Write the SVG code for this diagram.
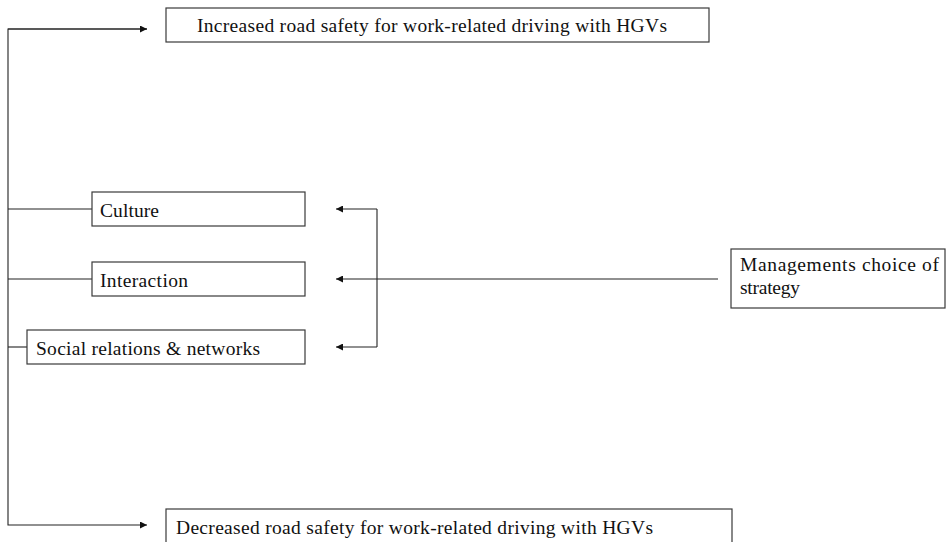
<svg xmlns="http://www.w3.org/2000/svg" width="948" height="542" viewBox="0 0 948 542">
  <style>
    .box { fill: #ffffff; stroke: #3a3a3a; stroke-width: 1.2; }
    .lbl { font-family: "Liberation Serif", "Times New Roman", serif; font-size: 19.5px; fill: #111111; }
    .wire { fill: none; stroke: #222222; stroke-width: 1.1; }
  </style>
  <defs>
    <marker id="tip" viewBox="0 0 10 10" refX="10" refY="5" markerWidth="9" markerHeight="7" markerUnits="userSpaceOnUse" orient="auto">
      <path d="M0,0 L10,5 L0,10 z" fill="#111111"/>
    </marker>
  </defs>

  <g id="connectors">
    <!-- left spine with outcome arrows -->
    <polyline class="wire" points="147,29 8,29 8,525 147,525" marker-end="url(#tip)"/>
    <path class="wire" d="M8,29 L147,29" marker-end="url(#tip)"/>
    <!-- spine to mechanism boxes -->
    <line class="wire" x1="8" y1="209" x2="92" y2="209"/>
    <line class="wire" x1="8" y1="279" x2="92" y2="279"/>
    <line class="wire" x1="8" y1="347" x2="27" y2="347"/>
    <!-- strategy fan-out -->
    <line class="wire" x1="718" y1="279" x2="336" y2="279" marker-end="url(#tip)"/>
    <path class="wire" d="M377,209 L377,347"/>
    <line class="wire" x1="377" y1="209" x2="336" y2="209" marker-end="url(#tip)"/>
    <line class="wire" x1="377" y1="347" x2="336" y2="347" marker-end="url(#tip)"/>
  </g>

  <g id="increased">
    <rect class="box" x="166" y="8" width="543" height="34"/>
    <text class="lbl" x="197" y="32" textLength="470" lengthAdjust="spacing">Increased road safety for work-related driving with HGVs</text>
  </g>

  <g id="culture">
    <rect class="box" x="92" y="192" width="213" height="34"/>
    <text class="lbl" x="100" y="217" textLength="59" lengthAdjust="spacing">Culture</text>
  </g>

  <g id="interaction">
    <rect class="box" x="92" y="262" width="213" height="34"/>
    <text class="lbl" x="100" y="287" textLength="88" lengthAdjust="spacing">Interaction</text>
  </g>

  <g id="social">
    <rect class="box" x="27" y="330" width="278" height="34"/>
    <text class="lbl" x="36" y="355" textLength="224" lengthAdjust="spacing">Social relations &amp; networks</text>
  </g>

  <g id="strategy">
    <rect class="box" x="731" y="249" width="214" height="59"/>
    <text class="lbl" x="740" y="271" textLength="199" lengthAdjust="spacing">Managements choice of</text>
    <text class="lbl" x="740" y="294" textLength="60" lengthAdjust="spacing">strategy</text>
  </g>

  <g id="decreased">
    <rect class="box" x="166" y="509" width="566" height="40"/>
    <text class="lbl" x="176" y="534" textLength="477" lengthAdjust="spacing">Decreased road safety for work-related driving with HGVs</text>
  </g>
</svg>
